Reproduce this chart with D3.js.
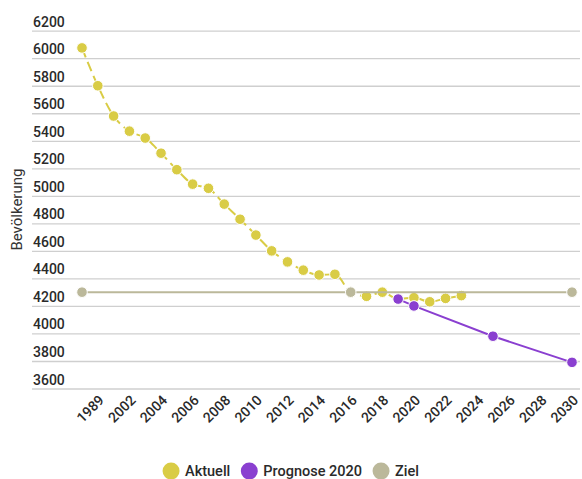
<!DOCTYPE html>
<html>
<head>
<meta charset="utf-8">
<script src="https://cdn.jsdelivr.net/npm/d3@7"></script>
<style>
  html, body { margin: 0; padding: 0; background: #fff; }
  svg { display: block; font-family: Roboto, "Noto Sans", sans-serif; }
</style>
</head>
<body>
<svg id="chart" width="582" height="479"></svg>
<script>
// ---- data ----
const categories = ["1989","2000","2001","2002","2003","2004","2005","2006","2007","2008",
  "2009","2010","2011","2012","2013","2014","2015","2016","2017","2018","2019","2020",
  "2021","2022","2023","2024","2025","2026","2027","2028","2029","2030"];
const aktuell = [6075,5800,5580,5470,5420,5310,5190,5085,5055,4940,
  4830,4715,4600,4520,4460,4425,4430,4300,4270,4300,4250,4260,
  4230,4255,4275,null,null,null,null,null,null,null];
const prognose = [null,null,null,null,null,null,null,null,null,null,
  null,null,null,null,null,null,null,null,null,null,4250,4200,
  null,null,null,null,3980,null,null,null,null,3790];
const ziel = [4300,null,null,null,null,null,null,null,null,null,
  null,null,null,null,null,null,null,4300,null,null,null,null,
  null,null,null,null,null,null,null,null,null,4300];
const tickCategories = ["2000","2002","2004","2006","2008","2010","2012","2014","2016",
  "2018","2020","2022","2024","2026","2028","2030"];
const tickLabels = ["1989","2002","2004","2006","2008","2010","2012","2014","2016",
  "2018","2020","2022","2024","2026","2028","2030"];
const yTicks = [3600,3800,4000,4200,4400,4600,4800,5000,5200,5400,5600,5800,6000,6200];
const seriesNames = ["Aktuell","Prognose 2020","Ziel"];
const seriesColors = ["#d9cc45","#8a3fd0","#bbb89a"];

// ---- chart ----
const svg = d3.select("#chart");
const x = d3.scalePoint().domain(categories).range([82, 572]);
const y = d3.scaleLinear().domain([3600, 6200]).range([388.5, 30.7]);

// grid + y labels
const yAxis = d3.axisLeft(y).tickValues(yTicks).tickSize(0).tickFormat(d3.format("d"));
const gy = svg.append("g").call(yAxis);
gy.select(".domain").remove();
gy.selectAll(".tick line").remove();
gy.selectAll(".tick").append("line")
  .attr("x1", 32).attr("x2", 580).attr("y1", 0).attr("y2", 0)
  .attr("stroke", "#cfcfcf").attr("stroke-width", 1.3);
gy.selectAll(".tick text")
  .attr("x", 33).attr("dy", -4.5).attr("text-anchor", "start")
  .attr("fill", "#2a2a2a").attr("font-size", 14).attr("font-weight", 500)
  .attr("font-family", "Roboto");

// y title
svg.append("text")
  .attr("transform", "translate(22," + ((y(3600) + y(6200)) / 2) + ") rotate(-90)")
  .attr("text-anchor", "middle")
  .attr("fill", "#333").attr("font-size", 15).attr("font-family", "Roboto")
  .text("Bevölkerung");

// x axis labels
const xAxis = d3.axisBottom(x).tickValues(tickCategories).tickSize(0)
  .tickFormat((d, i) => tickLabels[i]);
const gx = svg.append("g").attr("transform", "translate(0,388.5)").call(xAxis);
gx.select(".domain").remove();
gx.selectAll(".tick text")
  .attr("y", 0).attr("dy", 0)
  .attr("transform", "translate(4,10) rotate(-45)")
  .attr("text-anchor", "end")
  .attr("dominant-baseline", "middle")
  .attr("fill", "#2a2a2a").attr("font-size", 14).attr("font-weight", 500)
  .attr("font-family", "Roboto");

// series
const series = [
  { name: seriesNames[0], values: aktuell, color: seriesColors[0], dash: "10,5", curve: d3.curveMonotoneX },
  { name: seriesNames[1], values: prognose, color: seriesColors[1], dash: null, curve: d3.curveLinear },
  { name: seriesNames[2], values: ziel, color: seriesColors[2], dash: null, curve: d3.curveLinear }
];
series.forEach(s => {
  const pts = categories.map((c, i) => ({ c, v: s.values[i] })).filter(p => p.v != null);
  const line = d3.line().x(p => x(p.c)).y(p => y(p.v)).curve(s.curve);
  const g = svg.append("g");
  g.append("path").datum(pts)
    .attr("d", line).attr("fill", "none")
    .attr("stroke", s.color).attr("stroke-width", 2)
    .attr("stroke-dasharray", s.dash);
  g.selectAll("circle").data(pts).join("circle")
    .attr("cx", p => x(p.c)).attr("cy", p => y(p.v)).attr("r", 5.3)
    .attr("fill", s.color).attr("stroke", "#fff").attr("stroke-width", 1);
});

// legend
const legend = svg.append("g");
let lx = 0;
seriesNames.forEach((n, i) => {
  const it = legend.append("g").attr("transform", "translate(" + lx + ",0)");
  it.append("circle").attr("cx", 8).attr("cy", 0).attr("r", 8.5).attr("fill", seriesColors[i]);
  const t = it.append("text").attr("x", 22).attr("y", 5)
    .attr("fill", "#2a2a2a").attr("font-size", 14.5).attr("font-weight", 500)
    .attr("font-family", "Roboto").text(n);
  const w = t.node().getComputedTextLength();
  lx += 22 + w + 11;
});
const totalW = lx - 11;
legend.attr("transform", "translate(" + (291 - totalW / 2) + ",471)");
</script>
</body>
</html>
